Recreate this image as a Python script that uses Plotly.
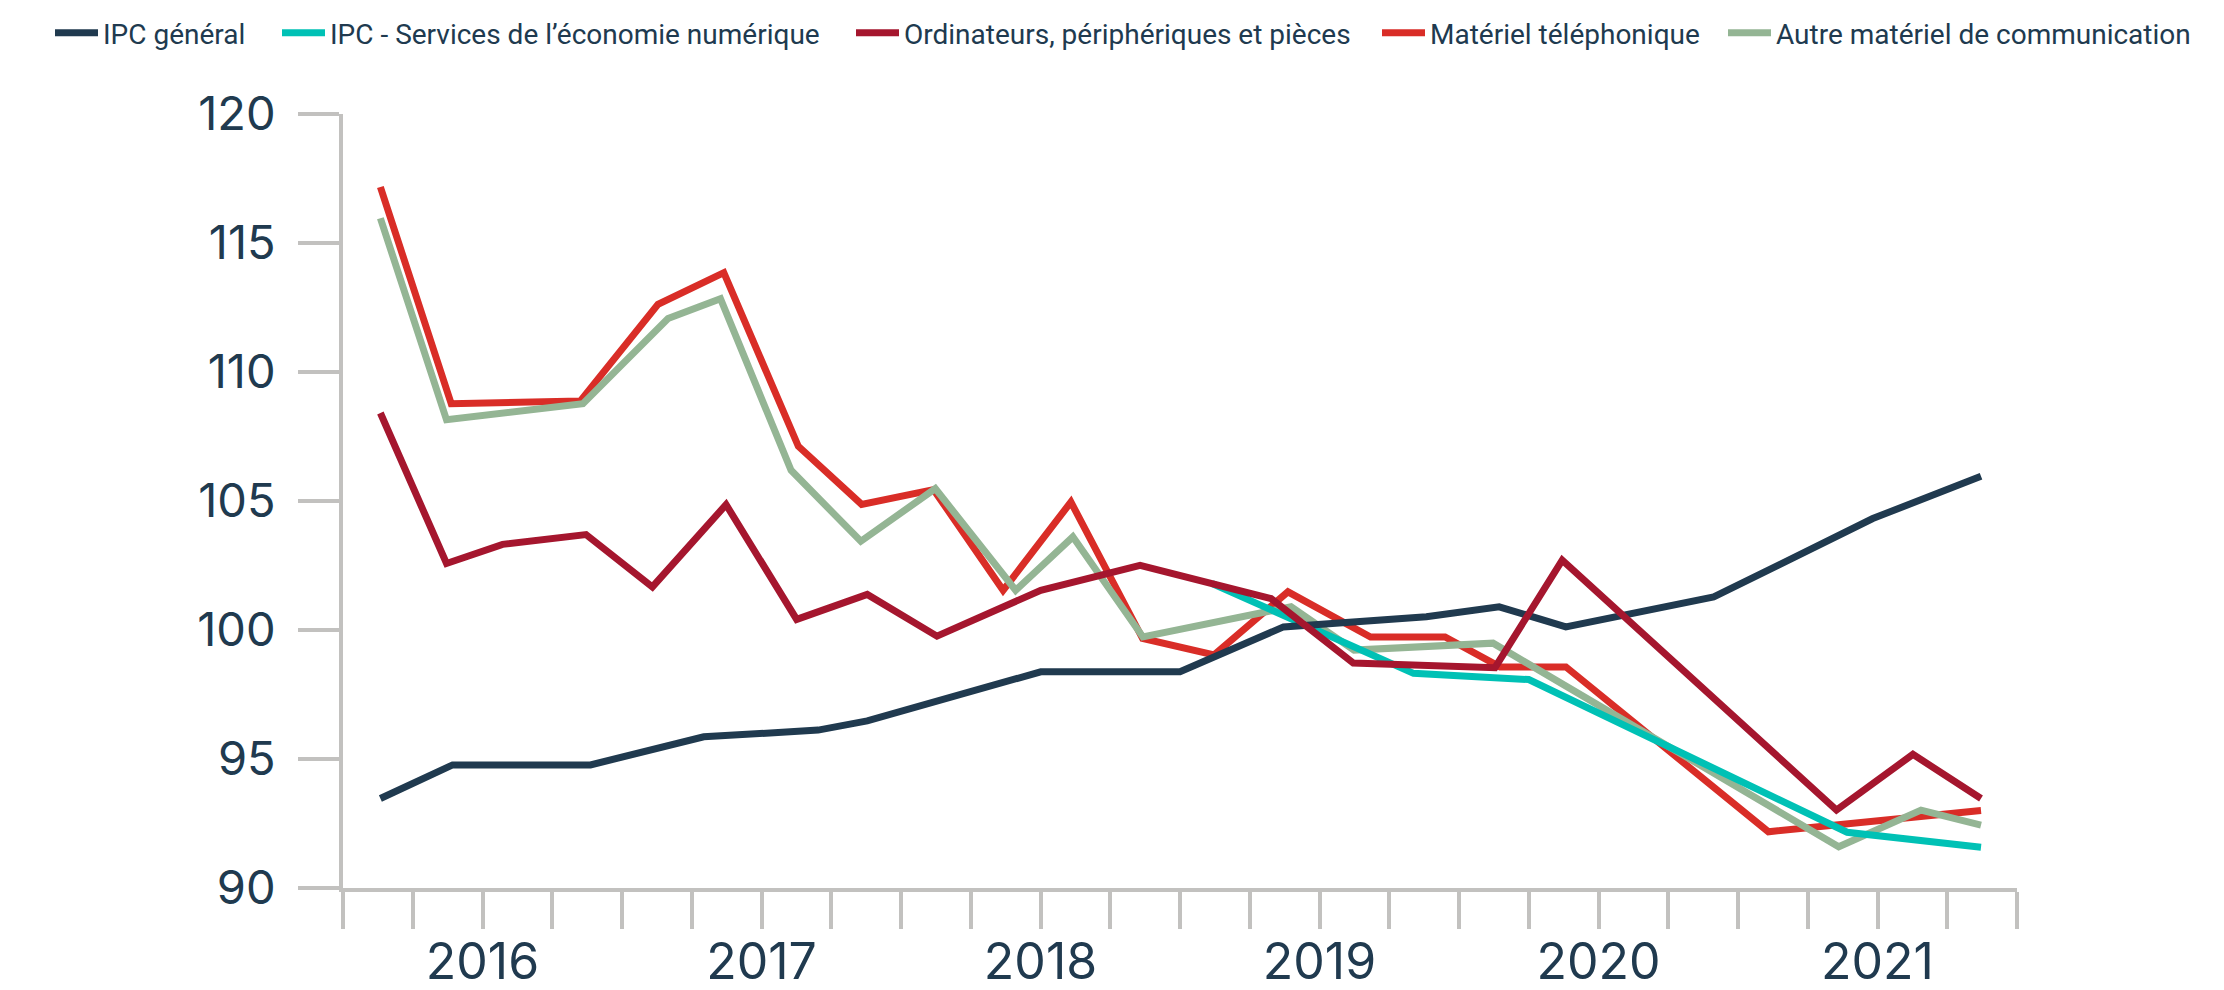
import plotly.graph_objects as go

# ---- data (x in decimal years, y index values) ----
year_labels = ["2016", "2017", "2018", "2019", "2020", "2021"]
year_starts = [2016, 2017, 2018, 2019, 2020, 2021, 2022]
y_ticks = [90, 95, 100, 105, 110, 115, 120]

ipc_x = [2016.134, 2016.393, 2016.887, 2017.293, 2017.703, 2017.879, 2018.501, 2019.0,
         2019.371, 2019.883, 2020.144, 2020.383, 2020.913, 2021.483, 2021.871]
ipc_y = [93.47, 94.77, 94.77, 95.86, 96.12, 96.48, 98.38, 98.38,
         100.12, 100.51, 100.9, 100.12, 101.28, 104.32, 105.96]

serv_x = [2019.115, 2019.837, 2020.250, 2021.391, 2021.871]
serv_y = [101.8, 98.32, 98.08, 92.16, 91.58]

ordi_x = [2016.134, 2016.371, 2016.572, 2016.871, 2017.109, 2017.373, 2017.626, 2017.879,
          2018.129, 2018.501, 2018.857, 2019.326, 2019.621, 2020.129, 2020.370, 2021.353,
          2021.627, 2021.871]
ordi_y = [108.41, 102.58, 103.32, 103.70, 101.67, 104.86, 100.41, 101.38,
          99.76, 101.54, 102.51, 101.22, 98.72, 98.54, 102.71, 93.02,
          95.18, 93.47]

tel_x = [2016.134, 2016.388, 2016.851, 2017.129, 2017.365, 2017.632, 2017.859, 2018.117,
         2018.366, 2018.609, 2018.866, 2019.122, 2019.387, 2019.683, 2019.950, 2020.147,
         2020.383, 2021.109, 2021.871]
tel_y = [117.17, 108.77, 108.88, 112.62, 113.85, 107.12, 104.87, 105.44,
         101.54, 104.96, 99.67, 99.03, 101.48, 99.73, 99.73, 98.57,
         98.57, 92.18, 93.0]

autre_x = [2016.134, 2016.371, 2016.860, 2017.165, 2017.353, 2017.606, 2017.856, 2018.123,
           2018.411, 2018.616, 2018.867, 2019.398, 2019.624, 2020.122, 2021.361, 2021.656,
           2021.871]
autre_y = [115.96, 108.15, 108.77, 112.07, 112.84, 106.19, 103.44, 105.48,
           101.54, 103.61, 99.73, 100.90, 99.22, 99.49, 91.60, 93.02,
           92.44]

NAVY = "#203a4f"
TEAL = "#00c1b5"
MAROON = "#a5162e"
RED = "#d92d27"
SAGE = "#94b594"
GREY = "#c2c1bf"

LINE_W = 7

fig = go.Figure()
# drawing order (bottom -> top): red, sage, teal, navy, maroon; each in its own legend
fig.add_trace(go.Scatter(x=tel_x, y=tel_y, mode="lines", name="Matériel téléphonique",
                         line=dict(color=RED, width=LINE_W), legend="legend4"))
fig.add_trace(go.Scatter(x=autre_x, y=autre_y, mode="lines", name="Autre matériel de communication",
                         line=dict(color=SAGE, width=LINE_W), legend="legend5"))
fig.add_trace(go.Scatter(x=serv_x, y=serv_y, mode="lines", name="IPC - Services de l\u2019économie numérique",
                         line=dict(color=TEAL, width=LINE_W), legend="legend2"))
fig.add_trace(go.Scatter(x=ipc_x, y=ipc_y, mode="lines", name="IPC général",
                         line=dict(color=NAVY, width=LINE_W), legend="legend"))
fig.add_trace(go.Scatter(x=ordi_x, y=ordi_y, mode="lines", name="Ordinateurs, périphériques et pièces",
                         line=dict(color=MAROON, width=LINE_W), legend="legend3"))

quarter_ticks = [y + q / 4 for y in year_starts[:-1] for q in range(4)] + [year_starts[-1]]
year_centers = [y + 0.5 for y in year_starts[:-1]]

FIG_W, FIG_H = 2216, 982   # page body adds an 8px offset
legend_font = dict(family="Roboto, sans-serif", size=28, color=NAVY)


def leg(px):
    return dict(orientation="h", xref="container", yref="container",
                x=(px - 15) / FIG_W, y=1 - 25 / FIG_H, xanchor="left", yanchor="middle",
                font=legend_font, itemwidth=43, bgcolor="rgba(0,0,0,0)")


fig.update_layout(
    width=FIG_W, height=FIG_H,
    margin=dict(l=335, r=207, t=106, b=102, autoexpand=False),
    plot_bgcolor="white", paper_bgcolor="white",
    showlegend=True,
    legend=leg(57), legend2=leg(284), legend3=leg(858), legend4=leg(1384), legend5=leg(1730),
    xaxis=dict(range=[2016, 2022], showgrid=False, zeroline=False,
               showline=True, linecolor=GREY, linewidth=4,
               tickmode="array", tickvals=year_centers, ticktext=year_labels,
               ticks="", ticklen=0, ticklabelstandoff=27,
               tickfont=dict(family="Inter, sans-serif", size=50, color=NAVY),
               minor=dict(tickmode="array", tickvals=quarter_ticks, ticks="outside",
                          ticklen=37, tickwidth=3.5, tickcolor=GREY, showgrid=False)),
    xaxis2=dict(range=[2016, 2022], overlaying="x", anchor="y", side="bottom",
                showgrid=False, zeroline=False, showline=False,
                tickmode="array", tickvals=year_starts, ticks="outside",
                ticklen=58, tickwidth=3.5, tickcolor=GREY, showticklabels=False),
    yaxis=dict(range=[90, 120], showgrid=False, zeroline=False,
               showline=True, linecolor=GREY, linewidth=4,
               tickmode="array", tickvals=y_ticks, ticks="outside",
               ticklen=41, tickwidth=3.5, tickcolor=GREY, ticklabelstandoff=13,
               tickfont=dict(family="Inter, sans-serif", size=47, color=NAVY)),
)

fig.write_html("out.html")
